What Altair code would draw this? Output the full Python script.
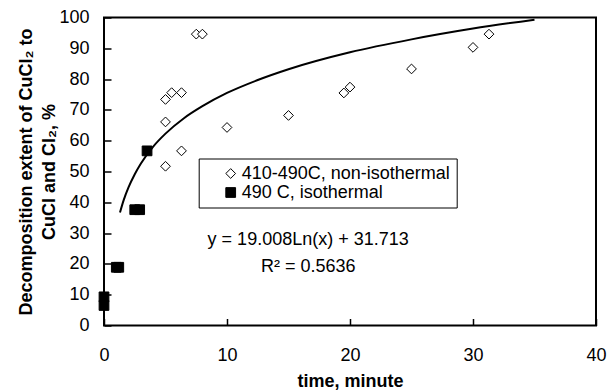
import altair as alt
import pandas as pd

# Non-isothermal (410-490C) data
noniso_x = [7.5, 8.0, 5.0, 5.5, 6.3, 5.0, 10.0, 15.0, 6.3, 5.0, 19.5, 20.0, 25.0, 30.0, 31.3]
noniso_y = [94.6, 94.6, 73.4, 75.6, 75.6, 66.1, 64.3, 68.2, 56.7, 51.7, 75.5, 77.4, 83.3, 90.3, 94.6]

# Isothermal (490 C) data
iso_x = [0.0, 0.0, 1.0, 1.2, 2.5, 2.9, 3.5]
iso_y = [6.5, 9.3, 18.9, 18.9, 37.6, 37.6, 56.7]

# Logarithmic trend line
trend_x = [1.3, 1.6, 2, 2.5, 3, 4, 5, 6.5, 8, 10, 12.5, 15, 20, 25, 30, 35]
trend_y = [36.7, 40.7, 44.9, 49.1, 52.6, 58.1, 62.3, 67.3, 71.2, 75.5, 79.7, 83.2, 88.7, 92.9, 96.4, 99.3]

series_names = ["410-490C, non-isothermal", "490 C, isothermal"]

eq_lines = ["y = 19.008Ln(x) + 31.713", "R\u00b2 = 0.5636"]
eq_x = [16.6, 16.6]
eq_y = [27.8, 19.1]

x_ticks = [0, 10, 20, 30, 40]
y_ticks = [0, 10, 20, 30, 40, 50, 60, 70, 80, 90, 100]

FONT = "Liberation Sans"
W, H = 492, 308
TICK = 7

pts = pd.DataFrame({
    "x": noniso_x + iso_x,
    "y": noniso_y + iso_y,
    "series": [series_names[0]] * len(noniso_x) + [series_names[1]] * len(iso_x),
})
trend = pd.DataFrame({"x": trend_x, "y": trend_y})
eq = pd.DataFrame({"x": eq_x, "y": eq_y, "t": eq_lines})

xscale = alt.Scale(domain=[0, 40], nice=False, zero=False)
yscale = alt.Scale(domain=[0, 100], nice=False, zero=False)

# Axes are shifted inward by the tick length so the ticks point into the plot
xaxis = alt.Axis(
    values=x_ticks, title="time, minute", grid=False, domain=False,
    ticks=True, tickSize=TICK, tickWidth=1.5, tickColor="black", offset=-TICK,
    labelOverlap=False, labelFlush=False, format="d",
    labelFont=FONT, labelFontSize=18, labelColor="black", labelPadding=21,
    titleFont=FONT, titleFontSize=18, titleFontWeight="bold", titleColor="black",
    titleBaseline="alphabetic", titleY=61 + TICK,
)
yaxis = alt.Axis(
    values=y_ticks, title=["Decomposition extent of CuCl\u2082 to", "CuCl and Cl\u2082, %"],
    grid=False, domain=False,
    ticks=True, tickSize=TICK, tickWidth=1.5, tickColor="black", offset=-TICK,
    labelOverlap=False, labelFlush=False, labelSeparation=0, format="d",
    labelFont=FONT, labelFontSize=18, labelColor="black", labelPadding=15,
    titleFont=FONT, titleFontSize=18, titleFontWeight="bold", titleColor="black",
    titleAngle=270, titleAlign="center", titleBaseline="middle", titleLineHeight=23,
    titleX=-77.5 - TICK, titleY=H / 2,
)

X = alt.X("x:Q", scale=xscale, axis=xaxis)
Y = alt.Y("y:Q", scale=yscale, axis=yaxis)

line = alt.Chart(trend).mark_line(color="black", strokeWidth=2, interpolate="monotone").encode(
    x=X, y=Y,
)

legend = alt.Legend(
    title=None, labelLimit=500,
    symbolStrokeColor="black", symbolStrokeWidth=1,
)

points = alt.Chart(pts).mark_point(filled=False, size=95, strokeWidth=1, opacity=1).encode(
    x=X, y=Y,
    shape=alt.Shape("series:N", scale=alt.Scale(domain=series_names, range=["diamond", "square"]),
                    legend=legend),
    fill=alt.Fill("series:N", scale=alt.Scale(domain=series_names, range=["white", "black"]),
                  legend=legend),
    stroke=alt.Stroke("series:N", scale=alt.Scale(domain=series_names, range=["black", "black"]),
                      legend=legend),
)

text = alt.Chart(eq).mark_text(font=FONT, fontSize=18, color="black", align="center", baseline="middle").encode(
    x=X, y=Y,
    text="t:N",
)

chart = alt.layer(line, points, text).properties(
    width=W, height=H,
    autosize=alt.AutoSizeParams(type="none"),
    padding={"left": 104, "top": 17.5, "right": 12, "bottom": 64.5},
    background="white",
).configure_view(
    stroke="black", strokeWidth=2,
).configure_legend(
    orient="none", legendX=94.7, legendY=141,
    padding=6, strokeColor="black", fillColor="white",
    labelFont=FONT, labelFontSize=18, labelColor="black",
    symbolOffset=17, labelOffset=2, rowPadding=1,
    symbolStrokeColor="black", symbolStrokeWidth=1, symbolSize=95,
)

chart.save("out.html", embed_options={"renderer": "svg", "actions": False})
